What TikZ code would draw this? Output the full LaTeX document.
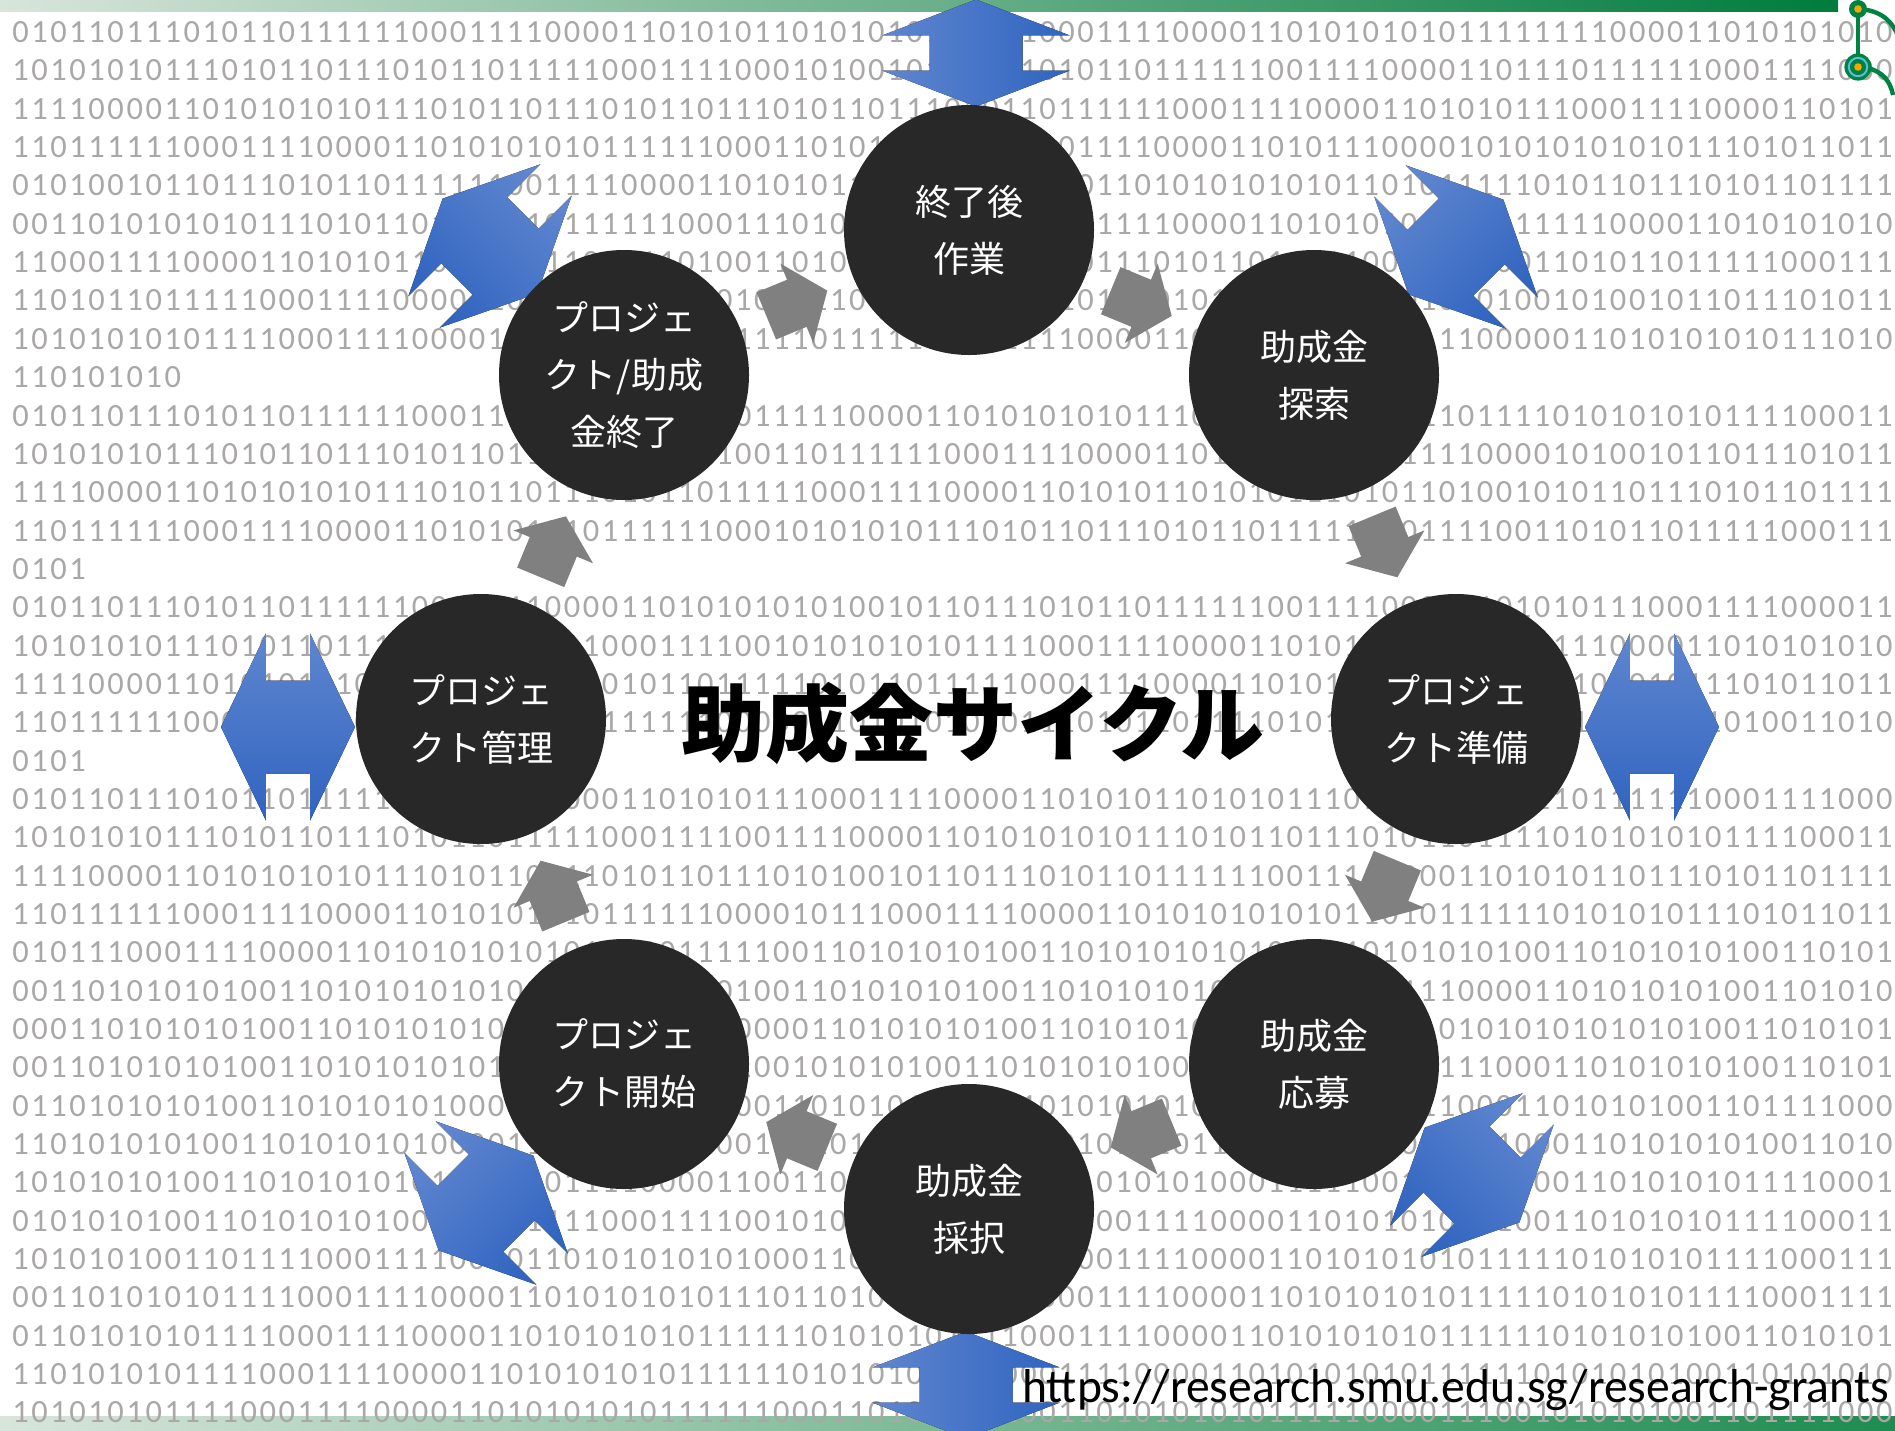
\documentclass[tikz,border=0pt]{standalone}
\usepackage{fontspec}
\setmainfont{Carlito}
\newfontfamily\binfont{Carlito}[LetterSpace=8]
\newfontfamily\cjk{Noto Sans CJK JP}
\definecolor{bingray}{RGB}{170,167,167}
\definecolor{circdark}{RGB}{41,40,41}
\definecolor{arrgray}{RGB}{128,128,128}
\definecolor{blueL}{RGB}{95,134,207}
\definecolor{blueD}{RGB}{48,100,192}
\definecolor{gLight}{RGB}{216,229,219}
\definecolor{gMid}{RGB}{150,200,168}
\definecolor{gDark}{RGB}{0,124,60}
\definecolor{gDarkB}{RGB}{30,140,80}
\definecolor{circGreen}{RGB}{0,130,66}
\definecolor{dotOrange}{RGB}{245,168,0}
\definecolor{ringCyan}{RGB}{90,190,220}
\def\binA{0101101110101101111110001111000011010101}
\def\binB{1010101011101011011101011011111000111100}
\def\binC{1111000011010101010111010110111010110111}
\def\binD{1101111110001111000011010101010111111000}
\def\binE{0101001011011101011011111100111100001101}
\def\binF{0011010101010111010110111101011111100011}
\def\binG{1100011110000110101011010101110101101001}
\def\binH{1101011011111000111100001101011100001010}
\def\binI{1010101010111100011110000110101010101111}
\def\binJ{0101110001111000011010101010101101011111}
\def\binK{0011010101010011010101010100011010101010}
\def\binL{0110101010100110101010100011111001110000}
\def\binM{0001101010101001101010101011111000011100}
\def\binN{1101010101001101010101000011111001110001}
\def\binO{1010101010011010101010111100011110000110}
\def\binP{0101010100110101010100110101111000111100}
\def\binQ{1010101001101111000111100001101010101010}
\def\binR{0011010101011110001111000011010101010111}
\def\binS{0110101010111100011110000110101010101111}
\def\binT{1101010101111000111100001101010101011111}
\def\binU{1010101011110001111000011010101010111111}
\newcommand\bluearr[5]{%
  \begin{scope}[shift={(#1,#2)},rotate=#3]
    \pgfmathsetmacro\hb{0.33*#4}
    \fill[blueshade,shading angle=#5] (-#4,0) -- (-\hb,93.5) -- (-\hb,46.5) -- (\hb,46.5) -- (\hb,93.5) -- (#4,0)
      -- (\hb,-93.5) -- (\hb,-46.5) -- (-\hb,-46.5) -- (-\hb,-93.5) -- cycle;
  \end{scope}}
\newcommand\grayarr[1]{%
  \begin{scope}[shift={({969+450*cos(#1)},{719-450*sin(#1)})},rotate={#1-90}]
    \fill[arrgray] (-33,-25.5) -- (0,-25.5) -- (0,-43) -- (33,0) -- (0,43) -- (0,25.5) -- (-33,25.5) -- cycle;
  \end{scope}}
\tikzset{
  bin/.style={anchor=base west,inner sep=0pt,text=bingray,font=\binfont\fontsize{16.2}{18}\selectfont},
  circ/.style={circle,fill=circdark,minimum size=125pt,inner sep=0pt,text=white,align=center,
    font=\cjk\fontsize{18}{28.5}\selectfont},
  blueshade/.style={shading=axis,top color=blueL,bottom color=blueD},
}
\begin{document}
\begin{tikzpicture}[x=0.5pt,y=-0.5pt]
\useasboundingbox (0,0) rectangle (1895,1430);
\fill[white] (0,0) rectangle (1895,1430);
% bars
\shade[left color=gLight,middle color=gMid,right color=gDark] (0,0) rectangle (1838,11);
\shade[left color=gLight,middle color=gMid,right color=gDarkB] (0,1416) rectangle (1895,1430);
% binary background
\begin{scope}
\clip (0,0) rectangle (1895,1430);
\foreach \r [count=\i from 0] in {
 {\binA\binI\binC},{\binB\binE\binD},{\binC\binA\binG},{\binD\binH\binB},{\binE\binJ\binA},{\binF\binI\binC},{\binG\binB\binH},{\binH\binK\binE},{\binI\binD\binF},
 {110101010},
 {\binA\binC\binI},{\binB\binD\binE},{\binC\binG\binA},{\binD\binB\binH},
 {0101},
 {\binA\binE\binJ},{\binB\binI\binC},{\binC\binH\binB},{\binD\binF\binK},
 {0101},
 {\binA\binG\binD},{\binB\binC\binI},{\binC\binE\binA},{\binD\binJ\binB},{\binJ\binK\binL},{\binK\binL\binN},{\binM\binK\binO},{\binK\binP\binL},
 {\binL\binN\binQ},{\binN\binO\binK},{\binO\binL\binR},{\binP\binQ\binS},{\binQ\binR\binT},{\binR\binS\binU},{\binS\binT\binO},{\binT\binU\binP},{\binU\binM\binQ}}
 {\node[bin] (row\i) at (12,{42.6+38.34*\i}) {\r};}
\end{scope}
% gray arrows (clockwise flow)
\foreach \p in {67.5,22.5,-22.5,-67.5,-112.5,-157.5,157.5,112.5} {\grayarr{\p}}
% blue double arrows
\bluearr{976}{53}{90}{53.5}{90}
\bluearr{966}{1385}{90}{53.5}{90}
\bluearr{1652}{727}{0}{67}{0}
\bluearr{288}{727}{0}{67}{0}
\bluearr{1456}{247}{45}{67}{45}
\bluearr{490}{246}{135}{67}{-45}
\bluearr{1472}{1175}{-45}{67}{-45}
\bluearr{486}{1203}{45}{67}{45}
% circles
\node[circ] (c1) at (969,230) {終了後\\作業};
\node[circ] (c2) at (1314,375) {助成金\\探索};
\node[circ] (c3) at (1456,719) {プロジェ\\クト準備};
\node[circ] (c4) at (1314,1064) {助成金\\応募};
\node[circ] (c5) at (969,1209) {助成金\\採択};
\node[circ] (c6) at (624,1064) {プロジェ\\クト開始};
\node[circ] (c7) at (481,719) {プロジェ\\クト管理};
\node[circ] (c8) at (624,375) {プロジェ\\クト/助成\\金終了};
% title
\node[inner sep=0pt,font=\cjk\bfseries\fontsize{42}{50}\selectfont] (title) at (973,723) {助成金サイクル};
% url
\node[anchor=base west,inner sep=0pt,font=\fontsize{23.8}{28}\selectfont] (url) at (1022,1402) {https://research.smu.edu.sg/research-grants};
% corner decoration
\draw[circGreen,line width=2.2pt] (1858,9) .. controls (1880,10) and (1892,20) .. (1899,38);
\draw[circGreen,line width=2.2pt] (1858,9) -- (1858,67);
\draw[circGreen,line width=2.2pt] (1868,68) .. controls (1882,72) and (1890,80) .. (1893,95);
\fill[circGreen] (1858,9) circle (4.5pt);
\fill[dotOrange] (1858,9) circle (1.9pt);
\fill[circGreen] (1858,67) circle (6.8pt);
\draw[ringCyan,line width=1pt] (1858,67) circle (4.6pt);
\fill[dotOrange] (1858,67) circle (1.9pt);
\end{tikzpicture}
\end{document}
